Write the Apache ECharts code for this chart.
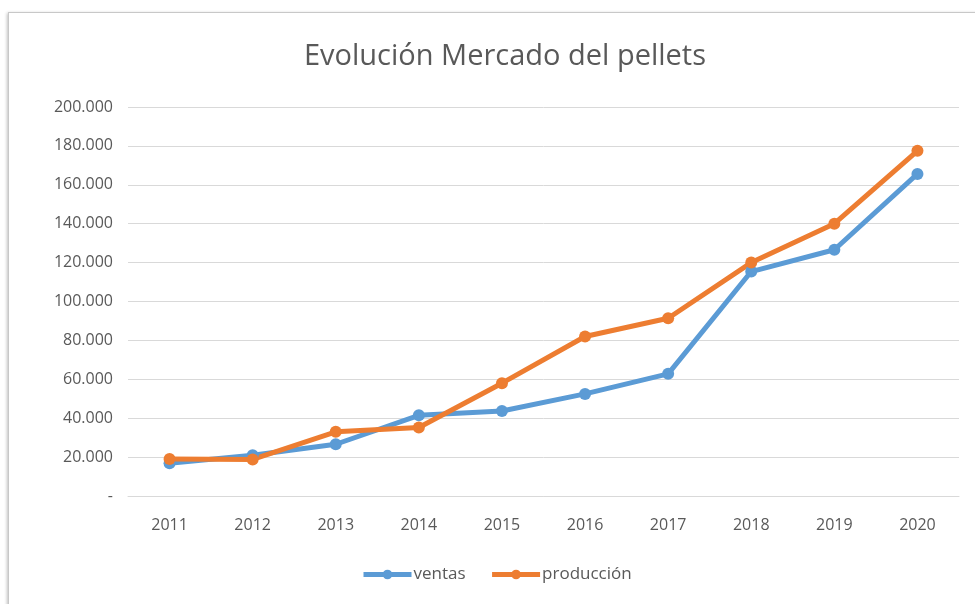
<!DOCTYPE html>
<html>
<head>
<meta charset="utf-8">
<script src="https://cdn.jsdelivr.net/npm/echarts@6/dist/echarts.min.js"></script>
<style>
  html, body { margin: 0; padding: 0; background: #fff; }
  #frame {
    position: absolute; left: 8px; top: 12px; width: 990px; height: 600px;
    border: 1px solid #c8c8c8; box-shadow: -1px 1px 3px rgba(0,0,0,0.25);
  }
  #chart { position: absolute; left: 0; top: 0; width: 975px; height: 604px; }
</style>
</head>
<body>
<div id="frame"></div>
<div id="chart"></div>
<script>
  // datos
  const years = ['2011', '2012', '2013', '2014', '2015', '2016', '2017', '2018', '2019', '2020'];
  const ventas = [16800, 21000, 26600, 41500, 43700, 52500, 62800, 115400, 126600, 165600];
  const produccion = [19000, 18800, 33000, 35200, 58000, 82000, 91400, 120000, 140000, 177500];
  const yTicks = [0, 20000, 40000, 60000, 80000, 100000, 120000, 140000, 160000, 180000, 200000];

  const grey = '#595959';
  const font = '"Open Sans", "Liberation Sans", sans-serif';

  function fmt(v) {
    if (v === 0) return '-';
    return String(v).replace(/\B(?=(\d{3})+(?!\d))/g, '.');
  }

  const chart = echarts.init(document.getElementById('chart'), null, { renderer: 'canvas' });
  chart.setOption({
    animation: false,
    title: {
      text: 'Evolución Mercado del pellets',
      left: 500,
      textAlign: 'center',
      top: 37,
      textStyle: { color: grey, fontFamily: font, fontSize: 29, fontWeight: 'normal' }
    },
    legend: {
      bottom: 21,
      left: 361,
      padding: 0,
      itemWidth: 48,
      itemHeight: 12,
      itemGap: 24,
      lineStyle: { width: 5 },
      textStyle: { color: grey, fontFamily: font, fontSize: 17, padding: [0, 0, 0, -3] },
      data: ['ventas', 'producción']
    },
    grid: { left: 128, right: 16, top: 107, bottom: 108, containLabel: false },
    xAxis: {
      type: 'category',
      data: years,
      boundaryGap: true,
      axisLine: { show: true, lineStyle: { color: '#d9d9d9', width: 1 } },
      axisTick: { show: false },
      axisLabel: { color: grey, fontFamily: font, fontSize: 16, margin: 21 }
    },
    yAxis: {
      type: 'value',
      min: 0,
      max: yTicks[yTicks.length - 1],
      interval: yTicks[1] - yTicks[0],
      axisLine: { show: false },
      axisTick: { show: false },
      splitLine: { lineStyle: { color: '#d9d9d9', width: 1 } },
      axisLabel: { color: grey, fontFamily: font, fontSize: 16, margin: 15, formatter: fmt }
    },
    series: [
      {
        name: 'ventas',
        type: 'line',
        data: ventas,
        symbol: 'circle',
        symbolSize: 12,
        lineStyle: { color: '#5b9bd5', width: 5 },
        itemStyle: { color: '#5b9bd5' }
      },
      {
        name: 'producción',
        type: 'line',
        data: produccion,
        symbol: 'circle',
        symbolSize: 12,
        lineStyle: { color: '#ed7d31', width: 5 },
        itemStyle: { color: '#ed7d31' }
      }
    ]
  });
</script>
</body>
</html>
